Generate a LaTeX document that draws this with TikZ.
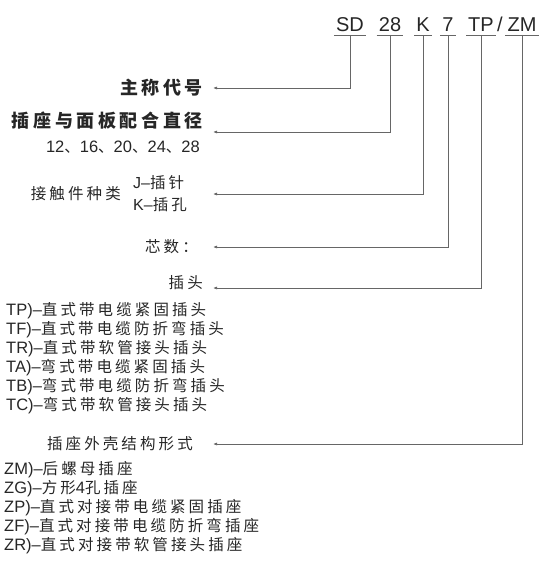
\documentclass[tikz,border=0pt]{standalone}
\usepackage{fontspec}
\setmainfont{Liberation Sans}
\newfontfamily\cjk[LetterSpace=20]{Noto Sans CJK SC}
\newcommand\zh[1]{{\cjk\fontsize{15.5}{19}\selectfont #1}}
\usetikzlibrary{arrows.meta,positioning}

\begin{document}
\begin{tikzpicture}[x=1pt, y=-1pt,
  every node/.style={inner sep=0pt, text=black!85},
  code/.style={anchor=south, inner xsep=2pt, inner ysep=3pt, text depth=0pt,
               font=\fontsize{20}{20}\selectfont},
  head/.style={anchor=east, font=\cjk\bfseries\fontsize{18}{18}\selectfont},
  sub/.style={anchor=east, font=\cjk\fontsize{15.5}{15.5}\selectfont},
  optlist/.style={anchor=north west, align=left,
                  font=\fontsize{16.5}{19}\selectfont},
  uline/.style={black!60, line width=0.9pt},
  conn/.style={black!60, line width=0.7pt, -{Latex[length=4pt,width=3pt]}},
]
\useasboundingbox (0,0) rectangle (555,588);

% model code
\node[code] (sd)  at (350,35) {SD};
\node[code] (d28) at (390,35) {28};
\node[code] (kk)  at (423,35) {K};
\node[code] (d7)  at (448,35) {7};
\node[code] (tp)  at (481,35) {TP};
\node[code] (sl)  at (500,35) {/};
\node[code] (zm)  at (522,35) {ZM};
\foreach \n in {sd,d28,kk,d7,tp,zm}
  \draw[uline] (\n.south west) -- (\n.south east);

% arrow ends
\coordinate (e1) at (213,88);
\coordinate (e2) at (213,132);
\coordinate (e3) at (213,194);
\coordinate (e4) at (213,247);
\coordinate (e5) at (213,288);
\coordinate (e6) at (213,444);

% labels
\node[head] (name)  at (203,88)  {主称代号};
\node[head] (dia)   at (203,121) {插座与面板配合直径};
\node[anchor=east, font=\fontsize{16.5}{16.5}\selectfont] (diav) at (200,147)
  {12\zh{、}16\zh{、}20\zh{、}24\zh{、}28};
\node[sub] (cont)   at (121,194) {接触件种类};
\node[anchor=west, align=left, font=\fontsize{16}{22}\selectfont] (contv) at (133,194)
  {J–\zh{插针}\\K–\zh{插孔}};
\node[sub] (pins)   at (198,247) {芯数：};
\node[sub] (plug)   at (203,283) {插头};
\node[optlist] (plugv) at (6,302)
  {TP)–\zh{直式带电缆紧固插头}\\
   TF)–\zh{直式带电缆防折弯插头}\\
   TR)–\zh{直式带软管接头插头}\\
   TA)–\zh{弯式带电缆紧固插头}\\
   TB)–\zh{弯式带电缆防折弯插头}\\
   TC)–\zh{弯式带软管接头插头}};
\node[sub] (shell)  at (193,444) {插座外壳结构形式};
\node[optlist] (shellv) at (4,461)
  {ZM)–\zh{后螺母插座}\\
   ZG)–\zh{方形}4\zh{孔插座}\\
   ZP)–\zh{直式对接带电缆紧固插座}\\
   ZF)–\zh{直式对接带电缆防折弯插座}\\
   ZR)–\zh{直式对接带软管接头插座}};

% connectors
\draw[conn] (sd.south)  |- (e1);
\draw[conn] (d28.south) |- (e2);
\draw[conn] (kk.south)  |- (e3);
\draw[conn] (d7.south)  |- (e4);
\draw[conn] (tp.south)  |- (e5);
\draw[conn] (zm.south)  |- (e6);
\end{tikzpicture}
\end{document}
